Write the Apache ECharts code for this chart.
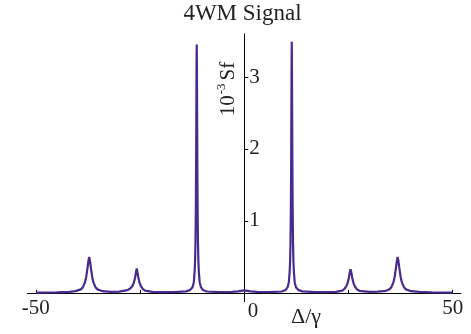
<!DOCTYPE html>
<html><head><meta charset="utf-8">
<script src="https://cdn.jsdelivr.net/npm/echarts@6/dist/echarts.min.js"></script>
<style>html,body{margin:0;padding:0;background:#fff}#c{width:471px;height:334px}</style>
</head><body><div id="c"></div>
<script>
const titleText = '4WM Signal';
const xTickValues = [-50, -25, 25, 50];
const xLabelValues = [-50, 50];
const yTickValues = [1, 2, 3];
const detuning = [-50,-45,-42,-40.5,-39.2,-38.7,-38.2,-37.9,-37.6,-37.4,-37.2,-37.0,-36.8,-36.5,-36.2,-35.7,-35.2,-34,-32,-30,-28,-27.3,-26.8,-26.5,-26.2,-26.0,-25.8,-25.6,-25.4,-25.1,-24.8,-24.3,-23.8,-22,-20,-17,-14,-13,-12.4,-12.1,-11.9,-11.8,-11.7,-11.6,-11.55,-11.5,-11.45,-11.4,-11.35,-11.3,-11.25,-11.2,-11.1,-11.0,-10.9,-10.7,-10.4,-9.9,-9,-6,-3,-1.5,-0.8,0,0.8,1.5,3,6,9,9.9,10.4,10.7,10.9,11.0,11.1,11.2,11.25,11.3,11.35,11.4,11.45,11.5,11.55,11.6,11.7,11.8,11.9,12.1,12.4,13,14,17,20,22,23.5,24.0,24.5,24.8,25.1,25.3,25.5,25.7,25.9,26.2,26.5,27.0,27.6,30,32,34,34.8,35.3,35.8,36.1,36.4,36.6,36.8,37.0,37.2,37.5,37.8,38.3,38.8,40,42,45,50];
const signal = [0.004,0.008,0.014,0.025,0.05,0.08,0.15,0.23,0.35,0.44,0.50,0.44,0.35,0.23,0.15,0.08,0.05,0.025,0.016,0.018,0.04,0.065,0.10,0.14,0.21,0.28,0.34,0.28,0.21,0.14,0.095,0.052,0.032,0.016,0.012,0.012,0.022,0.04,0.08,0.15,0.3,0.44,0.7,1.25,1.75,2.4,3.1,3.45,3.1,2.4,1.75,1.25,0.7,0.44,0.3,0.15,0.08,0.04,0.02,0.012,0.015,0.022,0.03,0.035,0.03,0.022,0.015,0.012,0.02,0.04,0.08,0.15,0.3,0.44,0.7,1.25,1.75,2.4,3.1,3.49,3.1,2.4,1.75,1.25,0.7,0.44,0.3,0.15,0.08,0.04,0.022,0.012,0.012,0.016,0.032,0.052,0.095,0.14,0.21,0.28,0.33,0.28,0.21,0.14,0.095,0.052,0.03,0.015,0.018,0.03,0.05,0.08,0.15,0.23,0.35,0.44,0.50,0.44,0.35,0.23,0.15,0.08,0.05,0.025,0.014,0.008,0.004];

const serif = '"Liberation Serif", "Times New Roman", serif';
const gridLeft = 27.5, gridRight = 10, gridTop = 33.8, gridBottom = 32.4;
const xMin = -52, xMax = 52, yMin = -0.12, yMax = 3.6;
const plotW = 471 - gridLeft - gridRight, plotH = 334 - gridTop - gridBottom;
const yAxisOffset = -(0 - xMin) / (xMax - xMin) * plotW;
const xAxisOffset = -(0 - yMin) / (yMax - yMin) * plotH;
const chart = echarts.init(document.getElementById('c'), null, {renderer: 'canvas'});
chart.setOption({
  animation: false,
  grid: {left: gridLeft, right: gridRight, top: gridTop, bottom: gridBottom, containLabel: false},
  xAxis: {
    type: 'value', min: xMin, max: xMax, position: 'bottom', offset: xAxisOffset,
    axisLine: {show: true, onZero: false, lineStyle: {color: '#000', width: 1}},
    axisTick: {show: true, inside: true, length: 3, customValues: xTickValues, lineStyle: {color: '#000'}},
    axisLabel: {show: true, customValues: xLabelValues, margin: 5, fontFamily: serif, fontSize: 21, color: '#222'},
    splitLine: {show: false}
  },
  yAxis: {
    type: 'value', min: yMin, max: yMax, position: 'left', offset: yAxisOffset,
    axisLine: {show: true, onZero: false, lineStyle: {color: '#000', width: 1}},
    axisTick: {show: true, inside: true, length: 4, customValues: yTickValues, lineStyle: {color: '#000'}},
    axisLabel: {show: true, inside: true, customValues: yTickValues, margin: 5, padding: [4,0,0,0], fontFamily: serif, fontSize: 21, color: '#222'},
    splitLine: {show: false}
  },
  graphic: [
    {type: 'text', x: 242.5, y: 14, style: {text: titleText, font: '23px ' + serif, fill: '#222', textAlign: 'center', textVerticalAlign: 'middle', align: 'center', verticalAlign: 'middle'}},
    {type: 'text', x: 253, y: 311.5, style: {text: '0', font: '21px ' + serif, fill: '#222', textAlign: 'center', textVerticalAlign: 'middle', align: 'center', verticalAlign: 'middle'}},
    {type: 'text', x: 306, y: 317, style: {text: 'Δ/γ', font: '22px ' + serif, fill: '#222', textAlign: 'center', textVerticalAlign: 'middle', align: 'center', verticalAlign: 'middle'}},
    {type: 'text', x: 227, y: 89, rotation: Math.PI / 2, style: {
      text: '{b|10}{s|-3}{b|Sf}', fill: '#222', textAlign: 'center', textVerticalAlign: 'middle', align: 'center', verticalAlign: 'middle',
      rich: {
        b: {fontFamily: serif, fontSize: 21, lineHeight: 24, verticalAlign: 'bottom', fill: '#222'},
        s: {fontFamily: serif, fontSize: 13, lineHeight: 13, verticalAlign: 'top', fill: '#222', padding: [0, 3, 0, 1]}
      }
    }}
  ],
  series: [{
    type: 'line', showSymbol: false, symbol: 'none', smooth: false,
    data: detuning.map((x, i) => [x, signal[i]]),
    lineStyle: {color: '#4a2a8c', width: 2.2},
    z: 1
  }]
});
</script></body></html>
